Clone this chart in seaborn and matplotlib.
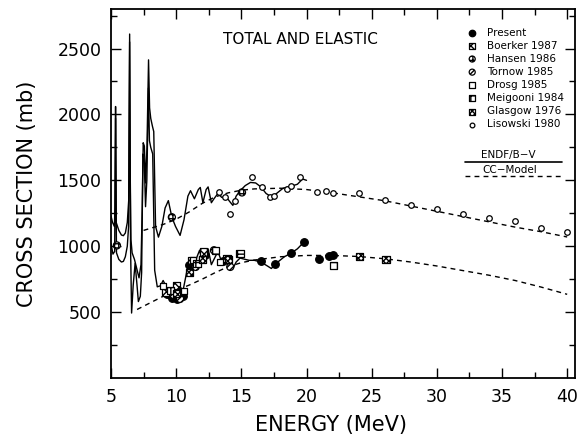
import numpy as np
import pandas as pd
import matplotlib
matplotlib.use("Agg")
import matplotlib.pyplot as plt
import seaborn as sns

# ---------------- data ----------------
endf_tot_E = [5.0, 5.12, 5.26, 5.31, 5.35, 5.40, 5.6, 5.8, 5.95, 6.1, 6.25, 6.36, 6.43, 6.48, 6.53,
              6.62, 6.8, 7.0, 7.15, 7.3, 7.4, 7.47, 7.56, 7.66, 7.76, 7.88, 7.96, 8.05, 8.18, 8.28,
              8.42, 8.64, 8.9, 9.15, 9.4, 9.67, 9.95, 10.3, 10.6, 10.9, 11.1, 11.4, 11.7, 11.85,
              12.05, 12.3, 12.45, 12.7, 12.9, 13.2, 13.5, 13.8, 14.1, 14.35, 14.6, 14.9, 15.3,
              15.7, 16.1, 16.5, 16.9, 17.3, 17.7, 18.2, 18.8, 19.3, 19.7, 20.0]
endf_tot_S = [1230, 1180, 1150, 1300, 2060, 1180, 1120, 1085, 1080, 1100, 1180, 1350, 2610, 1500, 1050,
              950, 900, 820, 760, 860, 1300, 1785, 1760, 1480, 1750, 2414, 2050, 1970, 1910, 1870,
              1150, 1069, 1150, 1290, 1346, 1220, 1150, 1082, 1200, 1380, 1421, 1360, 1430, 1446,
              1330, 1430, 1450, 1330, 1360, 1400, 1370, 1380, 1340, 1310, 1380, 1420, 1460,
              1484, 1480, 1450, 1400, 1375, 1400, 1440, 1455, 1470, 1510, 1500]

endf_el_E = [5.0, 5.15, 5.28, 5.35, 5.42, 5.6, 5.8, 5.95, 6.1, 6.25, 6.35, 6.43, 6.5, 6.58, 6.7,
             6.85, 7.0, 7.1, 7.25, 7.35, 7.45, 7.55, 7.65, 7.75, 7.87, 7.95, 8.05, 8.2, 8.35,
             8.55, 8.8, 9.0, 9.3, 9.6, 9.9, 10.2, 10.5, 10.8, 10.95, 11.2, 11.4, 11.6, 11.8,
             12.0, 12.2, 12.45, 12.7, 12.9, 13.2, 13.5, 13.8, 14.1, 14.35, 14.6, 14.9, 15.3,
             15.6, 16.0, 16.5, 17.0, 17.3, 17.8, 18.3, 18.8, 19.3, 19.8, 20.0]
endf_el_S = [1020, 940, 960, 1970, 950, 900, 880, 885, 920, 1000, 1150, 2550, 1000, 493, 700,
             870, 700, 580, 620, 800, 1700, 1650, 1300, 1500, 2200, 1800, 1750, 1700, 818,
             692, 700, 740, 680, 640, 610, 592, 650, 800, 856, 900, 850, 920, 970,
             880, 950, 980, 860, 900, 960, 880, 900, 860, 830, 880, 910, 900,
             893, 893, 880, 850, 831, 880, 920, 946, 980, 1031, 1040]

cc_tot_E = [7.5, 9.0, 10.0, 11.0, 12.0, 13.0, 14.0, 15.0, 16.0, 18.0, 20.0, 22.0, 24.0, 26.0,
            28.0, 30.0, 32.0, 34.0, 36.0, 38.0, 40.0]
cc_tot_S = [1120, 1165, 1205, 1260, 1325, 1375, 1405, 1425, 1435, 1440, 1430, 1405, 1375, 1345,
            1305, 1265, 1225, 1185, 1145, 1110, 1070]

cc_el_E = [7.0, 8.0, 9.0, 10.0, 11.0, 12.0, 13.0, 14.0, 15.0, 16.0, 18.0, 20.0, 22.0, 24.0,
           26.0, 28.0, 30.0, 32.0, 34.0, 36.0, 38.0, 40.0]
cc_el_S = [520, 570, 620, 665, 705, 750, 800, 845, 875, 895, 920, 930, 930, 922,
           905, 880, 850, 815, 780, 740, 690, 635]

present_E = [9.3, 9.7, 10.1, 10.5, 11.0, 12.2, 13.6, 16.5, 17.6, 18.8, 19.8, 20.95, 21.7, 22.05]
present_S = [640, 610, 600, 620, 860, 930, 890, 886, 868, 948, 1031, 906, 923, 931]
boerker_E = [9.2, 10.0, 11.2, 12.1, 13.9]
boerker_S = [650, 700, 893, 956, 906]
hansen_E = [5.45, 9.67, 15.05]
hansen_S = [1006, 1220, 1408]
tornow_E = [9.8, 10.3, 11.5, 12.9, 14.15]
tornow_S = [630, 600, 843, 969, 843]
drosg_E = [9.0, 10.6, 11.3, 12.0, 13.4]
drosg_S = [700, 660, 893, 900, 880]
meigooni_E = [9.6, 11.6, 13.0, 14.9, 22.05]
meigooni_S = [665, 870, 969, 944, 856]
glasgow_E = [10.0, 11.0, 12.0, 14.0, 24.1, 26.1]
glasgow_S = [640, 800, 900, 900, 923, 898]
lisowski_E = [13.26, 13.77, 14.15, 14.5, 15.8, 16.6, 17.2, 17.5, 18.5, 18.8, 19.5,
              20.8, 21.5, 22.0, 24.0, 26.0, 28.0, 30.0, 32.0, 34.0, 36.0, 38.0, 40.0]
lisowski_S = [1408, 1371, 1246, 1346, 1522, 1446, 1371, 1384, 1434, 1459, 1522,
              1414, 1416, 1406, 1404, 1351, 1316, 1286, 1246, 1213, 1188, 1137, 1110]

x_ticks = [5, 10, 15, 20, 25, 30, 35, 40]
y_ticks = [500, 1000, 1500, 2000, 2500]

# ---------------- style ----------------
sns.set_style("ticks")
plt.rcParams["font.family"] = ["DejaVu Sans"]
plt.rcParams.update({
    "xtick.direction": "in", "ytick.direction": "in",
    "xtick.top": True, "ytick.right": True,
    "axes.linewidth": 1.3,
    "text.color": "black", "axes.labelcolor": "black",
    "xtick.color": "black", "ytick.color": "black",
    "axes.edgecolor": "black",
})

fig = plt.figure(figsize=(5.81, 4.36), dpi=100)
ax = fig.add_axes([111/581, (436-378)/436, (575-111)/581, (378-9)/436])

def line(E, S, dashed=False):
    df = pd.DataFrame({"E": E, "S": S})
    sns.lineplot(data=df, x="E", y="S", ax=ax, color="black", lw=1.0, sort=False,
                 estimator=None)
    if dashed:
        ax.lines[-1].set_dashes((3.5, 3.0))

line(endf_tot_E, endf_tot_S)
line(endf_el_E, endf_el_S)
line(cc_tot_E, cc_tot_S, dashed=True)
line(cc_el_E, cc_el_S, dashed=True)

series = [
    ("Present", present_E, present_S, dict(marker="o", s=30, facecolor="black")),
    ("Boerker 1987", boerker_E, boerker_S, dict(marker="s", s=26, facecolor="white", hatch="xxxx")),
    ("Hansen 1986", hansen_E, hansen_S, dict(marker="o", s=26, facecolor="white", hatch="++++")),
    ("Tornow 1985", tornow_E, tornow_S, dict(marker="o", s=26, facecolor="white", hatch="//////")),
    ("Drosg 1985", drosg_E, drosg_S, dict(marker="s", s=24, facecolor="white")),
    ("Meigooni 1984", meigooni_E, meigooni_S, dict(marker="s", s=26, facecolor="white", hatch="++")),
    ("Glasgow 1976", glasgow_E, glasgow_S, dict(marker="s", s=26, facecolor="white", hatch="xxxxxx")),
    ("Lisowski 1980", lisowski_E, lisowski_S, dict(marker="o", s=16, facecolor="white")),
]
handles = []
for name, E, S, kw in series:
    df = pd.DataFrame({"E": E, "S": S})
    n0 = len(ax.collections)
    sns.scatterplot(data=df, x="E", y="S", ax=ax, linewidth=0.9, edgecolor="black",
                    zorder=3, legend=False, **kw)
    handles.append(ax.collections[n0])

ax.set_xlim(5, 40.6)
ax.set_ylim(0, 2800)
ax.set_xticks(x_ticks)
ax.set_yticks(y_ticks)
ax.set_xticks(np.arange(7.5, 40.5, 5), minor=True)
ax.set_yticks([250, 750, 1250, 1750, 2250, 2750], minor=True)
ax.tick_params(which="major", length=7, width=1.0, labelsize=12.5, pad=7)
ax.tick_params(which="minor", length=4, width=1.0)

ax.set_xlabel("ENERGY (MeV)", fontsize=15)
ax.set_ylabel("CROSS SECTION (mb)", fontsize=15)
ax.xaxis.set_label_coords(0.474, -0.10)
ax.yaxis.set_label_coords(-0.159, 0.5)

ax.text(0.409, 0.916, "TOTAL AND ELASTIC", transform=ax.transAxes, ha="center", va="center",
        fontsize=11)

leg = ax.legend(handles, [s[0] for s in series], loc="upper left",
                bbox_to_anchor=((467-111)/464, (378-27.5)/369), frameon=False,
                fontsize=7.5, handlelength=1.0, handletextpad=0.9, labelspacing=0.3,
                borderpad=0, borderaxespad=0, scatterpoints=1, markerscale=0.85)

# line entries of the key
ax.plot([(465-111)/464, (562-111)/464], [(378-162.5)/369]*2, color="black", lw=1.2,
        transform=ax.transAxes)
ax.plot([(465-111)/464, (562-111)/464], [(378-176.5)/369]*2, color="black", lw=1.0,
        dashes=(3.5, 3.0), transform=ax.transAxes)
ax.text((508-111)/464, (378-155)/369, "ENDF/B\u2212V", transform=ax.transAxes,
        ha="center", va="center", fontsize=7.5)
ax.text((510-111)/464, (378-170)/369, "CC\u2212Model", transform=ax.transAxes,
        ha="center", va="center", fontsize=7.5)

fig.savefig("out.png", dpi=100)
